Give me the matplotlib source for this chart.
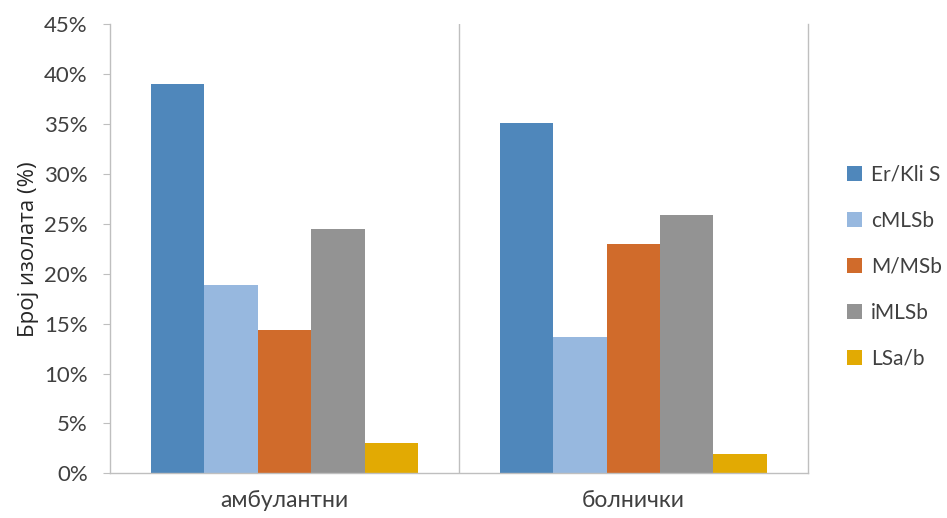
import numpy as np
import matplotlib.pyplot as plt

categories = ["амбулантни", "болнички"]
series = ["Er/Kli S", "cMLSb", "M/MSb", "iMLSb", "LSa/b"]
values = {
    "Er/Kli S": [39.0, 35.1],
    "cMLSb": [18.9, 13.7],
    "M/MSb": [14.4, 23.0],
    "iMLSb": [24.5, 25.9],
    "LSa/b": [3.0, 1.9],
}
colors = ["#4f87bb", "#97b8df", "#d06b2b", "#939393", "#e2aa03"]
yticks = [0, 5, 10, 15, 20, 25, 30, 35, 40, 45]

plt.rcParams["font.family"] = ["Lato", "DejaVu Sans"]

fig = plt.figure(figsize=(9.47, 5.18), dpi=100)
ax = fig.add_axes([0.1162, 0.0863, 0.7368, 0.8668])

x = np.arange(len(categories))
w = 0.153
for i, name in enumerate(series):
    ax.bar(x + (i - 2) * w, values[name], width=w, color=colors[i], label=name, zorder=2)

ax.set_xlim(-0.5, 1.5)
ax.set_ylim(0, 45)
ax.set_yticks(yticks)
ax.set_yticklabels([f"{t}%" for t in yticks], fontsize=16, color="#404040")
ax.set_xticks(x)
ax.set_xticklabels(categories, fontsize=16.5, color="#404040")
ax.tick_params(axis="x", length=0, pad=12)
ax.tick_params(axis="y", length=5, color="#bfbfbf", pad=11)

ax.spines["top"].set_visible(False)
for s in ["left", "right", "bottom"]:
    ax.spines[s].set_color("#bfbfbf")
    ax.spines[s].set_linewidth(1)
ax.axvline(0.5, color="#bfbfbf", lw=1, zorder=1)

ax.set_ylabel("Број изолата (%)", fontsize=16, color="#262626", labelpad=4,
              family=["Open Sans", "DejaVu Sans"])

ax.legend(loc="center left", bbox_to_anchor=(1.056, 0.46), frameon=False,
          borderaxespad=0, borderpad=0,
          fontsize=15, handlelength=0.75, handleheight=0.7, handletextpad=0.4,
          labelspacing=1.25, labelcolor="#404040")

fig.savefig("out.png", dpi=100)
